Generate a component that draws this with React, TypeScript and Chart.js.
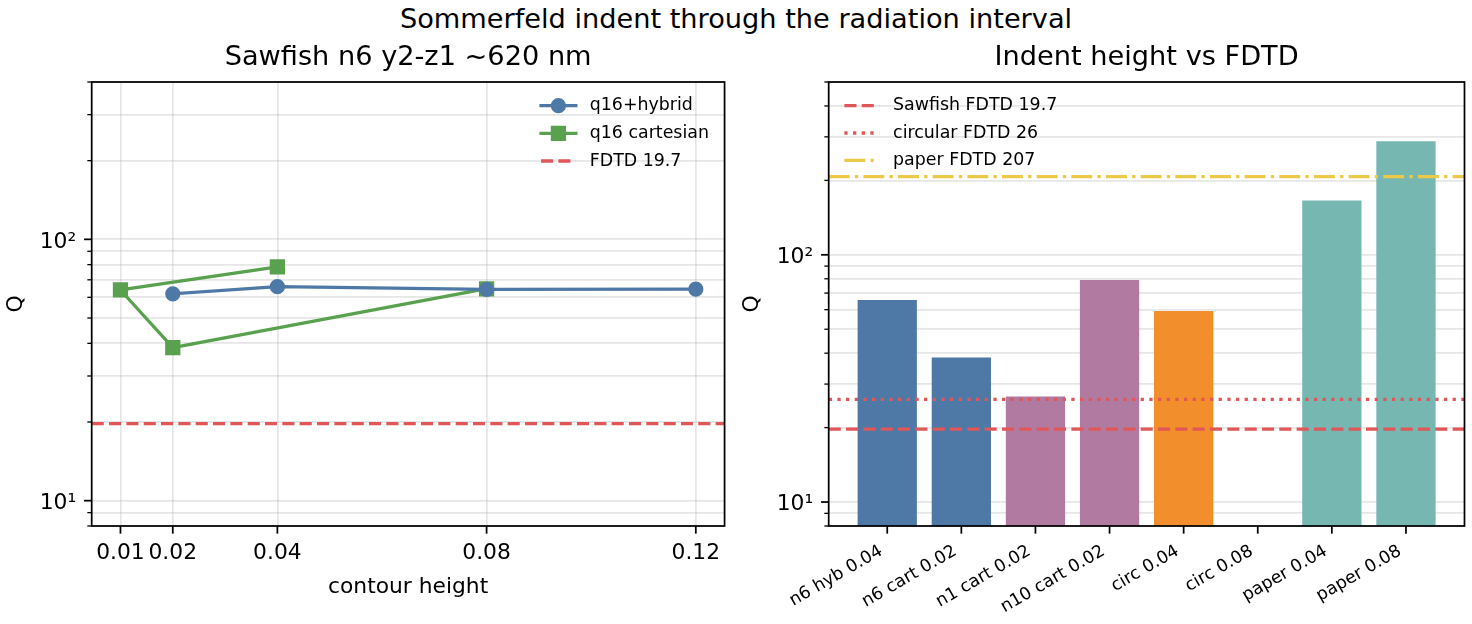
import React, { useEffect, useRef } from 'react';
import { Chart, registerables } from 'chart.js';

Chart.register(...registerables);

// ---------------- data ----------------
const figureTitle = 'Sommerfeld indent through the radiation interval';

const leftTitle = 'Sawfish n6 y2-z1 ~620 nm';
const leftXLabel = 'contour height';
const yLabel = 'Q';

const hybridLabel = 'q16+hybrid';
const hybridHeight = [0.02, 0.04, 0.08, 0.12];
const hybridQ = [61.9, 65.9, 64.4, 64.5];

const cartesianLabel = 'q16 cartesian';
const cartesianHeight = [0.04, 0.01, 0.02, 0.08];
const cartesianQ = [78.5, 64.0, 38.5, 64.7];

const leftXTicks = [0.01, 0.02, 0.04, 0.08, 0.12];
const leftXTickLabels = ['0.01', '0.02', '0.04', '0.08', '0.12'];
const leftYRange = [8, 400];
const leftRefLabels = ['FDTD 19.7'];
const leftRefValues = [19.7];

const rightTitle = 'Indent height vs FDTD';
const barCategories = [
  'n6 hyb 0.04',
  'n6 cart 0.02',
  'n1 cart 0.02',
  'n10 cart 0.02',
  'circ 0.04',
  'circ 0.08',
  'paper 0.04',
  'paper 0.08',
];
const barQ = [65.6, 38.4, 26.7, 79.1, 59.3, null, 166, 288];
const rightYRange = [8, 500];
const rightRefLabels = ['Sawfish FDTD 19.7', 'circular FDTD 26', 'paper FDTD 207'];
const rightRefValues = [19.7, 26, 207];

// ---------------- styles ----------------
const C = {
  blue: '#4e79a7',
  green: '#59a14f',
  red: '#e15759',
  purple: '#b07aa1',
  orange: '#f28e2b',
  teal: '#76b7b2',
  yellow: '#edc948',
};
const barColors = [C.blue, C.blue, C.purple, C.purple, C.orange, C.orange, C.teal, C.teal];

const PT = 2.18; // px per point
const LW = 1.5 * PT;
const DASHED = [3.7 * LW, 1.6 * LW];
const DOTTED = [1 * LW, 1.65 * LW];
const DASHDOT = [6.4 * LW, 1.6 * LW, 1 * LW, 1.6 * LW];
const leftRefStyles = [{ color: C.red, dash: DASHED }];
const rightRefStyles = [
  { color: C.red, dash: DASHED },
  { color: C.red, dash: DOTTED },
  { color: C.yellow, dash: DASHDOT },
];

const FONT = '"DejaVu Sans", "Liberation Sans", sans-serif';
const FS_TICK = 21.8;
const FS_TITLE = 27.2;
const FS_SMALL = 17.4;
const GRID = 'rgba(176,176,176,0.32)';
const GRID_W = 0.8 * PT;
const SPINE_W = 0.8 * PT;
const MAJOR_LEN = 3.5 * PT;
const MINOR_LEN = 2 * PT;
const MAJOR_W = 0.8 * PT;
const MINOR_W = 0.6 * PT;
const MARKER_R = 3 * PT;

// ---------------- layout ----------------
const FIG_W = 1472;
const FIG_H = 624;
const PANEL_W = 736;
const AX_TOP = 82;
const AX_BOTTOM = 526;
const LEFT_AX = [91.7, 727.6];
const RIGHT_AX = [828.7, 1464.5];
const TITLE_CENTER = 57.5;

const SUP: Record<string, string> = { '0': '⁰', '1': '¹', '2': '²', '3': '³', '-': '⁻' };
const sup = (n: number) => String(n).split('').map((c) => SUP[c] || c).join('');

function isPow10(v: number) {
  const l = Math.log10(v);
  return Math.abs(l - Math.round(l)) < 1e-9;
}

function logTickValues(min: number, max: number) {
  const out: number[] = [];
  for (let e = Math.floor(Math.log10(min)); e <= Math.ceil(Math.log10(max)); e++) {
    for (let m = 1; m <= 9; m++) {
      const v = m * Math.pow(10, e);
      if (v >= min * (1 - 1e-9) && v <= max * (1 + 1e-9)) out.push(v);
    }
  }
  return out;
}

function zeroPadding(s: any) {
  s.paddingLeft = 0;
  s.paddingRight = 0;
  s.paddingTop = 0;
  s.paddingBottom = 0;
}

const decorPlugin = {
  id: 'mplDecor',
  afterDraw(chart: any, _args: any, opts: any) {
    const ctx = chart.ctx;
    const a = chart.chartArea;
    const xs = chart.scales.x;
    const ys = chart.scales.y;

    // reference lines
    ctx.save();
    ctx.beginPath();
    ctx.rect(a.left, a.top, a.right - a.left, a.bottom - a.top);
    ctx.clip();
    (opts.refs || []).forEach((r: any) => {
      const y = ys.getPixelForValue(r.value);
      ctx.beginPath();
      ctx.setLineDash(r.dash);
      ctx.lineDashOffset = 0;
      ctx.lineCap = 'butt';
      ctx.lineWidth = LW;
      ctx.strokeStyle = r.color;
      ctx.moveTo(a.left, y);
      ctx.lineTo(a.right, y);
      ctx.stroke();
    });
    ctx.restore();

    // tick marks
    ctx.save();
    ctx.strokeStyle = '#000';
    ctx.setLineDash([]);
    ctx.lineCap = 'butt';
    for (const t of xs.ticks) {
      const px = xs.getPixelForValue(t.value);
      if (px < a.left - 0.5 || px > a.right + 0.5) continue;
      ctx.lineWidth = MAJOR_W;
      ctx.beginPath();
      ctx.moveTo(px, a.bottom);
      ctx.lineTo(px, a.bottom + MAJOR_LEN);
      ctx.stroke();
    }
    for (const t of ys.ticks) {
      const py = ys.getPixelForValue(t.value);
      if (py < a.top - 0.5 || py > a.bottom + 0.5) continue;
      const major = isPow10(t.value);
      ctx.lineWidth = major ? MAJOR_W : MINOR_W;
      ctx.beginPath();
      ctx.moveTo(a.left, py);
      ctx.lineTo(a.left - (major ? MAJOR_LEN : MINOR_LEN), py);
      ctx.stroke();
    }
    ctx.restore();

    // frame
    ctx.save();
    ctx.strokeStyle = '#000';
    ctx.lineWidth = SPINE_W;
    ctx.setLineDash([]);
    ctx.strokeRect(a.left, a.top, a.right - a.left, a.bottom - a.top);
    ctx.restore();

    // axes title, centred over the plot area
    if (opts.title) {
      ctx.save();
      ctx.font = `${FS_TITLE}px ${FONT}`;
      ctx.fillStyle = '#000';
      ctx.textAlign = 'center';
      ctx.textBaseline = 'middle';
      ctx.fillText(opts.title, (a.left + a.right) / 2, TITLE_CENTER);
      ctx.restore();
    }

    // legend
    const lg = opts.legend;
    if (!lg) return;
    const fs = lg.fontSize;
    ctx.save();
    ctx.font = `${fs}px ${FONT}`;
    const maxW = Math.max(...lg.items.map((it: any) => ctx.measureText(it.label).width));
    const borderAxesPad = 0.5 * fs;
    const borderPad = 0.4 * fs;
    const handleLen = 2 * fs;
    const handleTextPad = 0.8 * fs;
    const boxW = 2 * borderPad + handleLen + handleTextPad + maxW;
    const boxL = lg.loc === 'upper right' ? a.right - borderAxesPad - boxW : a.left + borderAxesPad;
    const hL = boxL + borderPad;
    const hR = hL + handleLen;
    const tX = hR + handleTextPad;
    lg.items.forEach((it: any, i: number) => {
      const cy = a.top + lg.firstRow + i * lg.rowPitch;
      ctx.strokeStyle = it.color;
      ctx.lineWidth = LW;
      const dashed = it.dash && it.dash.length;
      ctx.setLineDash(dashed ? it.dash : []);
      ctx.lineCap = dashed ? 'butt' : 'square';
      ctx.beginPath();
      ctx.moveTo(hL, cy);
      ctx.lineTo(hR, cy);
      ctx.stroke();
      ctx.setLineDash([]);
      if (it.marker) {
        const mx = (hL + hR) / 2;
        ctx.fillStyle = it.color;
        ctx.lineWidth = PT;
        ctx.beginPath();
        if (it.marker === 'circle') {
          ctx.arc(mx, cy, MARKER_R, 0, Math.PI * 2);
        } else {
          ctx.rect(mx - MARKER_R, cy - MARKER_R, 2 * MARKER_R, 2 * MARKER_R);
        }
        ctx.fill();
        ctx.stroke();
      }
      ctx.fillStyle = '#000';
      ctx.textAlign = 'left';
      ctx.textBaseline = 'middle';
      ctx.fillText(it.label, tX, cy);
    });
    ctx.restore();
  },
};

function logYAxis(range: number[], width: number, z: number) {
  return {
    type: 'logarithmic',
    min: range[0],
    max: range[1],
    z,
    afterBuildTicks: (s: any) => {
      s.ticks = logTickValues(s.min, s.max).map((v) => ({ value: v }));
    },
    afterFit: (s: any) => {
      s.width = width;
      zeroPadding(s);
    },
    ticks: {
      autoSkip: false,
      padding: 15.5,
      labelOffset: 2.5,
      color: '#000',
      font: { family: FONT, size: FS_TICK },
      callback: (v: any) => (isPow10(Number(v)) ? '10' + sup(Math.round(Math.log10(Number(v)))) : ''),
    },
    grid: { display: true, drawTicks: false, color: GRID, lineWidth: GRID_W },
    border: { display: false },
    title: {
      display: true,
      text: yLabel,
      color: '#000',
      font: { family: FONT, size: FS_TICK, weight: 'normal', lineHeight: 1.2 },
      padding: { top: 3.4, bottom: 0 },
    },
  };
}

function leftConfig(): any {
  const xs = [...hybridHeight, ...cartesianHeight];
  const lo = Math.min(...xs);
  const hi = Math.max(...xs);
  const m = 0.05 * (hi - lo);
  const series = (label: string, hx: number[], q: number[], color: string, style: string, r: number) => ({
    label,
    data: hx.map((x, i) => ({ x, y: q[i] })),
    borderColor: color,
    backgroundColor: color,
    borderWidth: LW,
    borderJoinStyle: 'round',
    borderCapStyle: 'square',
    pointStyle: style,
    pointRadius: r,
    pointBorderWidth: PT,
    pointBorderColor: color,
    pointBackgroundColor: color,
    tension: 0,
    fill: false,
  });
  return {
    type: 'line',
    data: {
      datasets: [
        series(hybridLabel, hybridHeight, hybridQ, C.blue, 'circle', MARKER_R),
        series(cartesianLabel, cartesianHeight, cartesianQ, C.green, 'rect', MARKER_R * Math.SQRT2),
      ],
    },
    options: {
      animation: false,
      responsive: true,
      maintainAspectRatio: false,
      events: [],
      layout: { padding: { top: AX_TOP, left: 0, right: PANEL_W - LEFT_AX[1], bottom: 0 } },
      scales: {
        x: {
          type: 'linear',
          min: lo - m,
          max: hi + m,
          offset: false,
          afterBuildTicks: (s: any) => {
            s.ticks = leftXTicks.map((v) => ({ value: v }));
          },
          afterFit: (s: any) => {
            s.height = FIG_H - AX_BOTTOM;
            zeroPadding(s);
          },
          ticks: {
            autoSkip: false,
            maxRotation: 0,
            minRotation: 0,
            padding: 14.4,
            color: '#000',
            font: { family: FONT, size: FS_TICK },
            callback: (v: any) => {
              const i = leftXTicks.indexOf(Number(v));
              return i >= 0 ? leftXTickLabels[i] : '';
            },
          },
          grid: { display: true, drawTicks: false, color: GRID, lineWidth: GRID_W },
          border: { display: false },
          title: {
            display: true,
            text: leftXLabel,
            color: '#000',
            font: { family: FONT, size: FS_TICK, weight: 'normal', lineHeight: 1.2 },
            padding: { top: 0, bottom: 23.4 },
          },
        },
        y: logYAxis(leftYRange, LEFT_AX[0], 0),
      },
      plugins: {
        legend: { display: false },
        tooltip: { enabled: false },
        title: { display: false },
        mplDecor: {
          title: leftTitle,
          refs: leftRefValues.map((v, i) => ({ value: v, ...leftRefStyles[i] })),
          legend: {
            loc: 'upper right',
            fontSize: FS_SMALL,
            firstRow: 23.7,
            rowPitch: 27.65,
            items: [
              { label: hybridLabel, color: C.blue, marker: 'circle' },
              { label: cartesianLabel, color: C.green, marker: 'square' },
              ...leftRefLabels.map((l, i) => ({ label: l, ...leftRefStyles[i] })),
            ],
          },
        },
      },
    },
    plugins: [decorPlugin],
  };
}

function rightConfig(): any {
  const n = barCategories.length;
  const lo = -0.4;
  const hi = n - 1 + 0.4;
  const m = 0.05 * (hi - lo);
  return {
    type: 'bar',
    data: {
      datasets: [
        {
          label: 'Q',
          data: barCategories.map((_, i) => ({ x: i, y: barQ[i] })),
          backgroundColor: barColors,
          borderWidth: 0,
          categoryPercentage: 1,
          barPercentage: 0.8,
        },
      ],
    },
    options: {
      animation: false,
      responsive: true,
      maintainAspectRatio: false,
      events: [],
      layout: { padding: { top: AX_TOP, left: 0, right: FIG_W - RIGHT_AX[1], bottom: 0 } },
      scales: {
        x: {
          type: 'linear',
          min: lo - m,
          max: hi + m,
          offset: false,
          afterBuildTicks: (s: any) => {
            s.ticks = barCategories.map((_, i) => ({ value: i }));
          },
          afterFit: (s: any) => {
            s.height = FIG_H - AX_BOTTOM;
            zeroPadding(s);
          },
          ticks: {
            autoSkip: false,
            maxRotation: 30,
            minRotation: 30,
            padding: 15,
            labelOffset: -6,
            color: '#000',
            font: { family: FONT, size: FS_SMALL },
            callback: (v: any) => barCategories[Number(v)] ?? '',
          },
          grid: { display: false, drawTicks: false },
          border: { display: false },
        },
        y: logYAxis(rightYRange, RIGHT_AX[0] - PANEL_W, 1),
      },
      plugins: {
        legend: { display: false },
        tooltip: { enabled: false },
        title: { display: false },
        mplDecor: {
          title: rightTitle,
          refs: rightRefValues.map((v, i) => ({ value: v, ...rightRefStyles[i] })),
          legend: {
            loc: 'upper left',
            fontSize: FS_SMALL,
            firstRow: 23.7,
            rowPitch: 27.3,
            items: rightRefLabels.map((l, i) => ({ label: l, ...rightRefStyles[i] })),
          },
        },
      },
    },
    plugins: [decorPlugin],
  };
}

export default function App() {
  const leftRef = useRef<HTMLCanvasElement | null>(null);
  const rightRef = useRef<HTMLCanvasElement | null>(null);

  useEffect(() => {
    document.body.style.margin = '0';
    Chart.defaults.font.family = FONT;
    Chart.defaults.color = '#000';
    const charts: any[] = [];
    if (leftRef.current) charts.push(new Chart(leftRef.current, leftConfig()));
    if (rightRef.current) charts.push(new Chart(rightRef.current, rightConfig()));
    return () => charts.forEach((c) => c.destroy());
  }, []);

  return (
    <div style={{ position: 'relative', width: FIG_W, height: FIG_H, background: '#fff', overflow: 'hidden' }}>
      <div
        style={{
          position: 'absolute',
          left: 0,
          top: 2.7,
          width: FIG_W,
          textAlign: 'center',
          fontFamily: FONT,
          fontSize: FS_TITLE,
          lineHeight: 1.2,
          color: '#000',
          whiteSpace: 'nowrap',
        }}
      >
        {figureTitle}
      </div>
      <div style={{ position: 'absolute', left: 0, top: 0, width: PANEL_W, height: FIG_H }}>
        <canvas ref={leftRef} />
      </div>
      <div style={{ position: 'absolute', left: PANEL_W, top: 0, width: PANEL_W, height: FIG_H }}>
        <canvas ref={rightRef} />
      </div>
    </div>
  );
}
